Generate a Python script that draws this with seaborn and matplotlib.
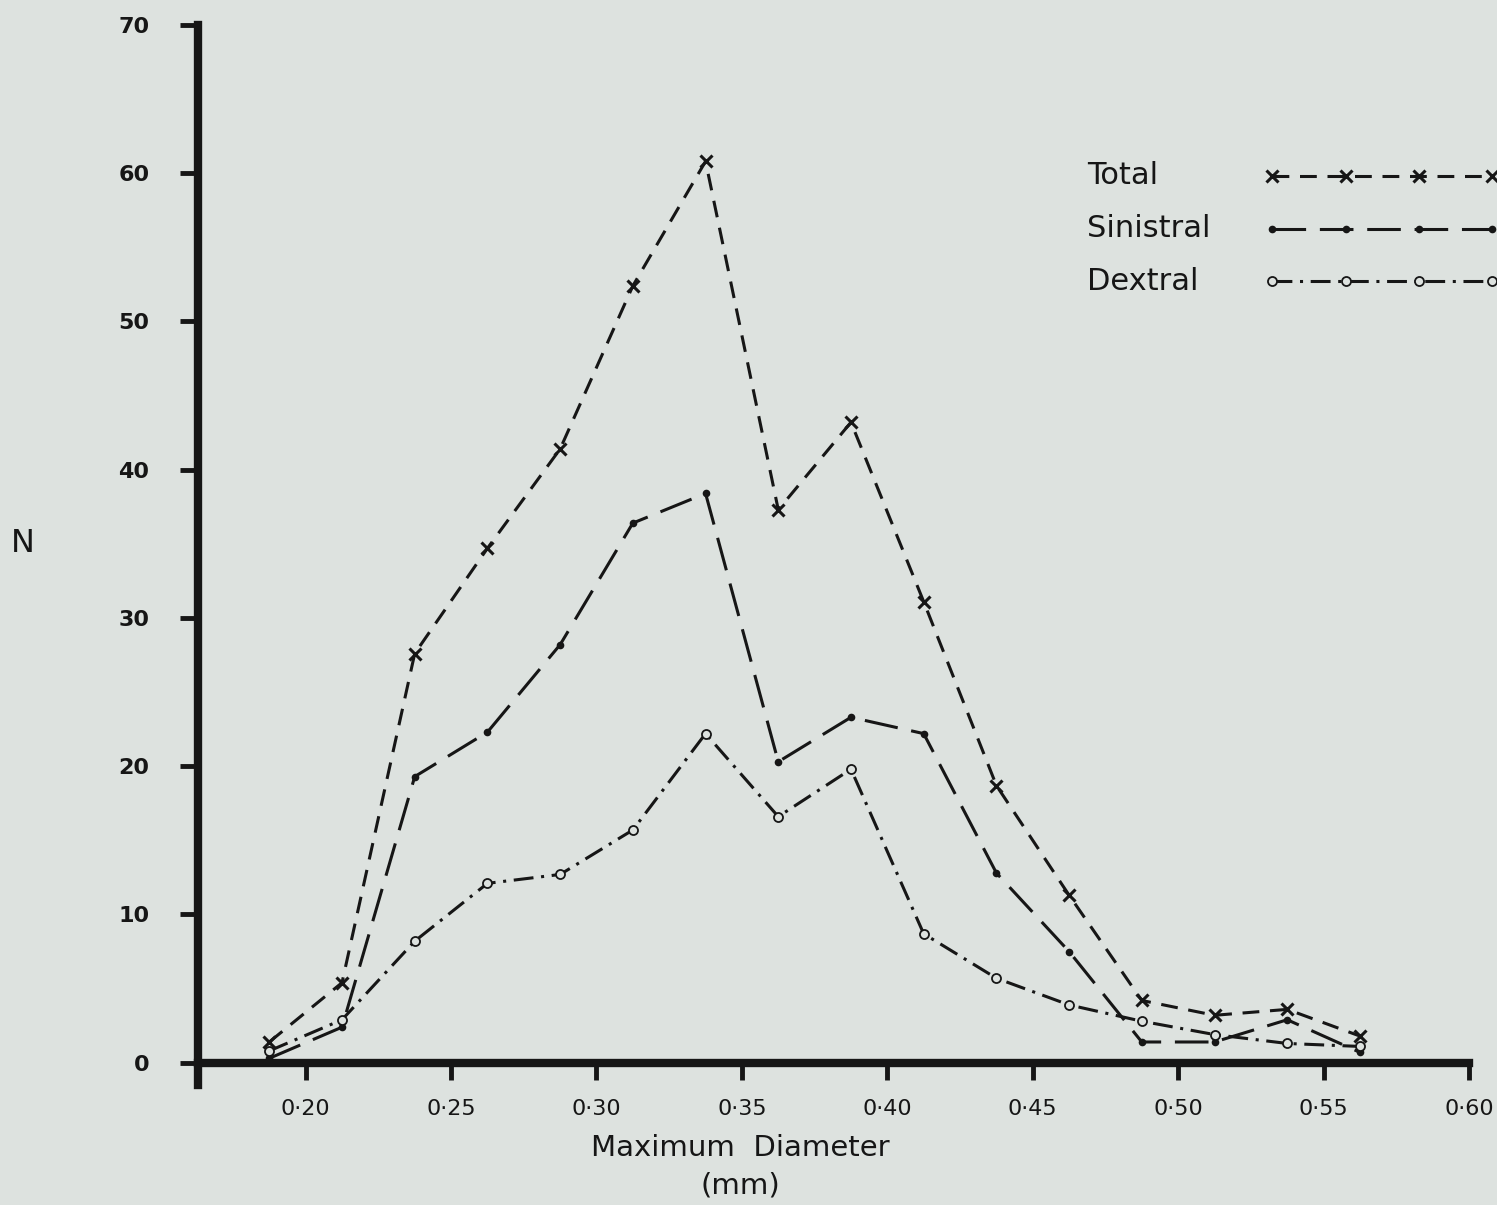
import pandas as pd
import matplotlib
matplotlib.use("Agg")
import matplotlib.pyplot as plt
import seaborn as sns

sns.set_style("ticks")

# shell counts per size class
diameter = [0.1875, 0.2125, 0.2375, 0.2625, 0.2875, 0.3125, 0.3375, 0.3625,
            0.3875, 0.4125, 0.4375, 0.4625, 0.4875, 0.5125, 0.5375, 0.5625]
total = [1.4, 5.4, 27.6, 34.7, 41.4, 52.4, 60.8, 37.3,
         43.2, 31.1, 18.7, 11.3, 4.2, 3.2, 3.6, 1.8]
sinistral = [0.3, 2.4, 19.3, 22.3, 28.2, 36.4, 38.4, 20.3,
             23.3, 22.2, 12.8, 7.5, 1.4, 1.4, 2.9, 0.7]
dextral = [0.8, 2.9, 8.2, 12.1, 12.7, 15.7, 22.2, 16.6,
           19.8, 8.7, 5.7, 3.9, 2.8, 1.9, 1.3, 1.1]

series = ["Total", "Sinistral", "Dextral"]
x_ticks = [0.20, 0.25, 0.30, 0.35, 0.40, 0.45, 0.50, 0.55, 0.60]
x_ticklabels = ["0·20", "0·25", "0·30", "0·35", "0·40", "0·45", "0·50", "0·55", "0·60"]
y_ticks = [0, 10, 20, 30, 40, 50, 60, 70]

bg = "#dde2df"
ink = "#161616"

plt.rcParams["font.family"] = ["DejaVu Sans"]

df = pd.DataFrame({"diameter": diameter, "Total": total,
                   "Sinistral": sinistral, "Dextral": dextral})

fig = plt.figure(figsize=(14.97, 12.05), dpi=100, facecolor=bg)
ax = fig.add_axes([0.1323, 0.0996, 0.849, 0.8797])
ax.set_facecolor(bg)

styles = {
    "Total": dict(linestyle=(0, (5.5, 3.5)), marker="x", markersize=9,
                  markeredgewidth=2.2, markerfacecolor=ink, markeredgecolor=ink),
    "Sinistral": dict(linestyle=(0, (11, 4.5)), marker="o", markersize=5.5,
                      markeredgewidth=0, markerfacecolor=ink, markeredgecolor=ink),
    "Dextral": dict(linestyle=(0, (6.5, 2.5, 1, 2.5)), marker="o", markersize=6.5,
                    markeredgewidth=1.3, markerfacecolor=bg, markeredgecolor=ink),
}

for name in series:
    sns.lineplot(data=df, x="diameter", y=name, ax=ax, color=ink, lw=2.2,
                 label=name, **styles[name])

ax.set_xlim(0.163, 0.60)
ax.set_ylim(-1.5, 70)
ax.spines["bottom"].set_position(("data", 0))
ax.spines["right"].set_visible(False)
ax.spines["top"].set_visible(False)
for s in ["left", "bottom"]:
    ax.spines[s].set_linewidth(6)
    ax.spines[s].set_color(ink)
    ax.spines[s].set_capstyle("projecting")

ax.set_xticks(x_ticks)
ax.set_xticklabels(x_ticklabels, fontsize=16)
ax.set_yticks(y_ticks)
ax.set_yticklabels([str(v) for v in y_ticks], fontsize=16, fontweight="bold")
ax.tick_params(axis="x", length=12, width=3.5, direction="out", pad=14, colors=ink)
ax.tick_params(axis="y", length=13, width=3.5, direction="out", pad=22, colors=ink)

ax.set_xlabel("Maximum  Diameter\n(mm)", fontsize=21, linespacing=1.45, color=ink)
ax.xaxis.set_label_coords(0.427, -0.046)
ax.set_ylabel("N", rotation=0, fontsize=23, color=ink, ha="center", va="center")
ax.yaxis.set_label_coords(-0.138, 0.511)

# key: line samples in one column, names lettered to their left
handles, _ = ax.get_legend_handles_labels()
ax.legend(handles, [" "] * 3, loc="upper left",
          bbox_to_anchor=(1263 / 1497, 1 - 164 / 1205),
          bbox_transform=fig.transFigure, frameon=False, fontsize=22,
          numpoints=4, handlelength=7.8, handletextpad=0.2,
          labelspacing=0.77, borderpad=0, borderaxespad=0)
for i, name in enumerate(series):
    fig.text(1087 / 1497, 1 - (176 + 52.5 * i) / 1205, name, fontsize=22,
             color=ink, ha="left", va="center")

fig.savefig("out.png", dpi=100, facecolor=bg)
